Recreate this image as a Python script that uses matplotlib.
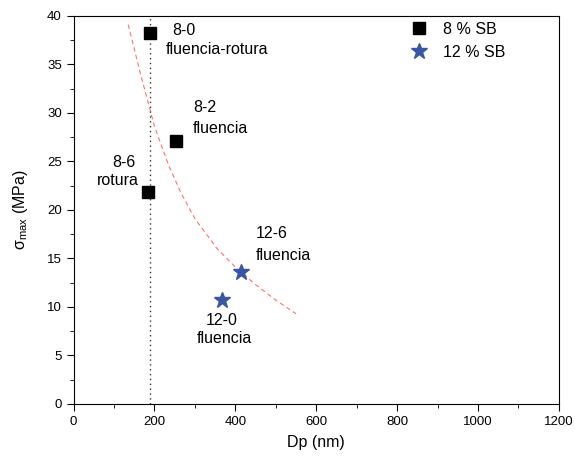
import numpy as np
import matplotlib
matplotlib.use("Agg")
import matplotlib.pyplot as plt
from matplotlib.ticker import MultipleLocator

plt.rcParams['font.family'] = ['Liberation Sans', 'DejaVu Sans']
plt.rcParams['mathtext.default'] = 'regular'

# datos
dp_8 = [190, 253, 184]
sig_8 = [38.2, 27.1, 21.8]
dp_12 = [367, 414]
sig_12 = [10.7, 13.6]

# curva de ajuste (roja, discontinua)
curve_dp = [135, 165, 200, 235, 265, 300, 355, 405, 450, 500, 550]
curve_sig = [39.1, 34.1, 28.6, 24.6, 21.8, 19.1, 16.0, 13.9, 12.3, 10.7, 9.3]

dp_line = 190

W, H = 575, 467
fig = plt.figure(figsize=(W / 100, H / 100), dpi=100)
ax = fig.add_axes([0.128, 0.135, 0.844, 0.831])

ax.plot(curve_dp, curve_sig, color='#ff7070', lw=0.8, ls=(0, (4, 3)))
ax.axvline(dp_line, color='#333333', lw=1, ls=(0, (1, 2.5)))
ax.plot(dp_8, sig_8, 's', color='k', ms=8, ls='none', label='8 % SB')
ax.plot(dp_12, sig_12, '*', color='#3a55a4', ms=12, ls='none', label='12 % SB')

fs = 11.5
ax.text(245, 38.5, '8-0', fontsize=fs, va='center')
ax.text(229, 36.5, 'fluencia-rotura', fontsize=fs, va='center')
ax.text(295, 30.6, '8-2', fontsize=fs, va='center')
ax.text(295, 28.35, 'fluencia', fontsize=fs, va='center')
ax.text(152, 24.9, '8-6', fontsize=fs, va='center', ha='right')
ax.text(160, 23.0, 'rotura', fontsize=fs, va='center', ha='right')
ax.text(451, 17.6, '12-6', fontsize=fs, va='center')
ax.text(451, 15.3, 'fluencia', fontsize=fs, va='center')
ax.text(367, 8.6, '12-0', fontsize=fs, va='center', ha='center')
ax.text(373, 6.7, 'fluencia', fontsize=fs, va='center', ha='center')

ax.set_xlim(0, 1200)
ax.set_ylim(0, 40)
ax.xaxis.set_major_locator(MultipleLocator(200))
ax.xaxis.set_minor_locator(MultipleLocator(100))
ax.yaxis.set_major_locator(MultipleLocator(5))
ax.yaxis.set_minor_locator(MultipleLocator(2.5))
ax.tick_params(which='both', direction='out', top=False, right=False, labelsize=9.5)
ax.tick_params(which='major', length=5)
ax.tick_params(which='minor', length=3)

ax.set_xlabel('Dp (nm)', fontsize=11.5, labelpad=5)
ax.set_ylabel(r'σ$_{max}$ (MPa)', fontsize=11.5, labelpad=12)

leg = ax.legend(loc='upper left', bbox_to_anchor=(409 / W, 1 - 22 / H),
                bbox_transform=fig.transFigure, fontsize=11.5, frameon=False,
                handlelength=1.2, handletextpad=0.95, borderpad=0,
                labelspacing=0.5, borderaxespad=0)

fig.savefig('out.png', dpi=100)
